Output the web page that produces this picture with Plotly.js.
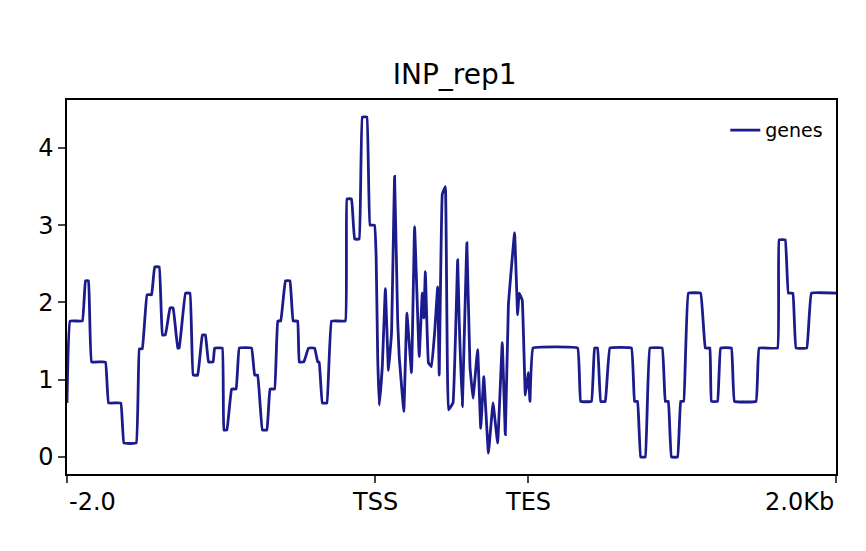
<html><head><script src="https://cdn.plot.ly/plotly-3.0.1.min.js"></script></head><body style="margin:0">
<div id="g" style="width:866px;height:551px"></div>
<script>
const binX = [0,2,10,12,14,16,25,27,35,37,45,47,49,52,55,57,60,62,64,67,69,72,73,77,80,82,85,88,90,92,95,96,101,102,104,107,110,112,120,122,124,127,130,132,135,137,139,142,145,147,150,151,154,157,161,163,164,166,169,172,181,182,185,187,190,192,195,197,200,201,202,203,205,207,209,211,213,215,216,219,221,224,226,229,231,232,233,235,237,239,241,242,244,246,248,251,254,255,257,260,262,264,267,269,271,274,277,280,283,285,287,291,293,294,296,298,300,301,303,332,334,341,343,345,347,350,353,367,369,371,373,376,379,387,389,391,393,397,399,401,404,412,415,418,419,423,425,432,434,448,450,462,463,467,469,472,474,481,484,500];
const values = [0.7,1.76,1.76,2.28,2.28,1.23,1.23,0.7,0.7,0.18,0.18,1.4,1.4,2.1,2.1,2.46,2.46,1.58,1.58,1.93,1.93,1.41,1.41,2.12,2.12,1.06,1.06,1.58,1.58,1.23,1.23,1.41,1.41,0.35,0.35,0.88,0.88,1.41,1.41,1.06,1.06,0.35,0.35,0.88,0.88,1.76,1.76,2.28,2.28,1.76,1.76,1.23,1.23,1.41,1.41,1.23,1.23,0.7,0.7,1.76,1.76,3.34,3.34,2.82,2.82,4.4,4.4,3.0,3.0,2.6,1.3,0.67,1.17,2.18,1.12,1.6,3.63,1.77,1.3,0.59,1.86,1.09,2.98,1.3,2.12,1.8,2.4,1.22,1.17,1.6,2.2,1.06,3.4,3.5,0.61,0.7,2.55,1.77,0.65,2.77,1.17,0.76,1.39,0.37,1.04,0.05,0.7,0.18,1.48,0.29,1.97,2.9,1.84,2.12,2.03,0.8,1.09,0.72,1.41,1.41,0.72,0.72,1.41,1.41,0.72,0.72,1.41,1.41,0.72,0.72,0,0,1.41,1.41,0.72,0.72,0,0,0.72,0.72,2.12,2.12,1.41,1.41,0.72,0.72,1.41,1.41,0.72,0.72,1.41,1.41,2.81,2.81,2.12,2.12,1.41,1.41,2.12,2.12];
const tickVals = [0,200,300,500];
const tickText = ['-2.0','TSS','TES','2.0Kb'];
const anchors = ['left','center','center','right'];
const ann = tickVals.map((v,i)=>({x:v,xref:'x',y:0,yref:'paper',yanchor:'top',yshift:-12,xanchor:anchors[i],text:tickText[i],showarrow:false,font:{size:24}}));
Plotly.newPlot('g',[{x:binX,y:values,type:'scatter',mode:'lines',name:'genes',line:{color:'rgb(27,27,140)',width:2.8,shape:'spline',smoothing:0.2}}],{
 width:866,height:551,margin:{l:67,r:30,t:100,b:77},
 paper_bgcolor:'white',plot_bgcolor:'white',
 font:{family:'DejaVu Sans',color:'black'},
 title:{text:'INP_rep1',x:0.525,xanchor:'center',y:0.865,yanchor:'middle',font:{size:28}},
 annotations:ann,
 xaxis:{range:[0,500],tickvals:tickVals,showticklabels:false,showgrid:false,zeroline:false,showline:true,mirror:true,linecolor:'black',linewidth:1.5,ticks:'outside',ticklen:7,tickwidth:1.5},
 yaxis:{range:[-0.22,4.62],tickvals:[0,1,2,3,4],showgrid:false,zeroline:false,showline:true,mirror:true,linecolor:'black',linewidth:1.5,ticks:'outside',ticklen:7,tickwidth:1.5,tickfont:{size:24}},
 showlegend:true,
 legend:{x:0.99,xanchor:'right',y:0.97,yanchor:'top',bgcolor:'rgba(0,0,0,0)',font:{size:19}}
},{displayModeBar:false});
</script></body></html>
